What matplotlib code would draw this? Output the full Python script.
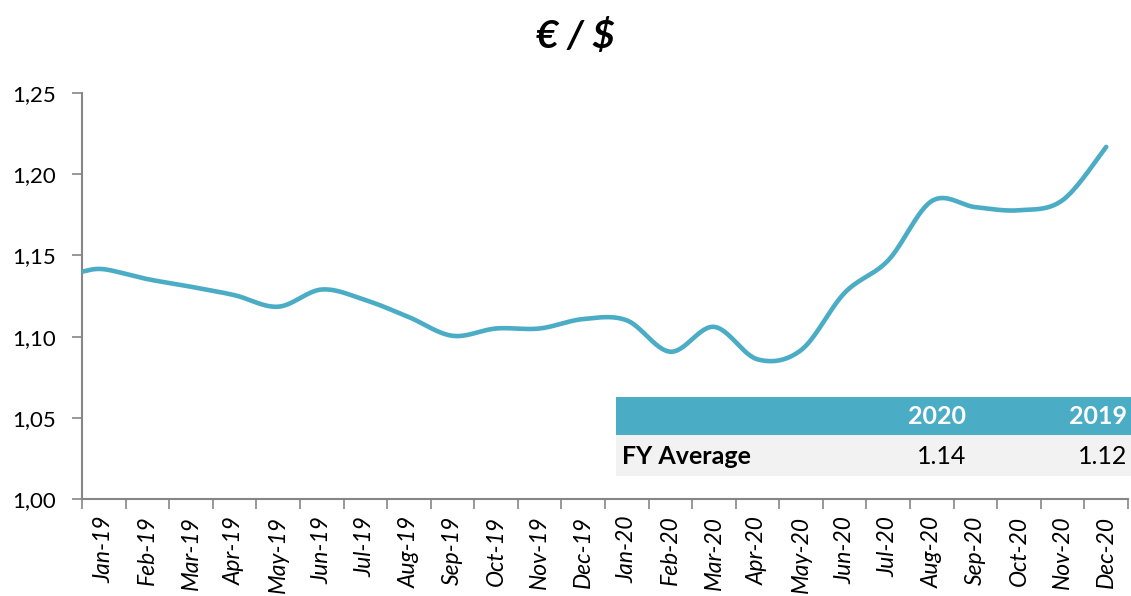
import numpy as np
import matplotlib
matplotlib.use("Agg")
import matplotlib.pyplot as plt
from matplotlib.patches import Rectangle

months = ["Jan-19", "Feb-19", "Mar-19", "Apr-19", "May-19", "Jun-19", "Jul-19", "Aug-19",
          "Sep-19", "Oct-19", "Nov-19", "Dec-19", "Jan-20", "Feb-20", "Mar-20", "Apr-20",
          "May-20", "Jun-20", "Jul-20", "Aug-20", "Sep-20", "Oct-20", "Nov-20", "Dec-20"]
start_value = 1.140
rate = [1.1415, 1.1354, 1.1307, 1.1255, 1.1184, 1.1290, 1.1225, 1.1120,
        1.1005, 1.1050, 1.1050, 1.1108, 1.1100, 1.0907, 1.1060, 1.0860,
        1.0917, 1.1270, 1.1470, 1.1835, 1.1797, 1.1778, 1.1840, 1.2168]
table_cols = ["2020", "2019"]
table_row = "FY Average"
table_vals = ["1.14", "1.12"]

plt.rcParams['font.family'] = ['Lato', 'DejaVu Sans']
COL = "#4BACC6"
GREY = "#868686"

fig = plt.figure(figsize=(11.31, 5.96), dpi=100)
ax = fig.add_axes([82/1131, 1-499/596, (1128-82)/1131, (499-93)/596])

xs = np.concatenate([[0.0], np.arange(len(rate)) + 0.5])
ys = np.concatenate([[start_value], rate])

# Catmull-Rom smoothing for drawing (like Excel smoothed line)
def catmull(x, y, n=30):
    P = np.column_stack([x, y])
    P = np.vstack([P[0], P, P[-1]])
    out = []
    t = np.linspace(0, 1, n, endpoint=False)
    for i in range(1, len(P) - 2):
        p0, p1, p2, p3 = P[i-1], P[i], P[i+1], P[i+2]
        b1 = p1 + (p2 - p0) / 6
        b2 = p2 - (p3 - p1) / 6
        seg = ((1-t)**3)[:, None]*p1 + (3*(1-t)**2*t)[:, None]*b1 + (3*(1-t)*t**2)[:, None]*b2 + (t**3)[:, None]*p2
        out.append(seg)
    out.append(P[-2][None, :])
    out = np.vstack(out)
    return out[:, 0], out[:, 1]

sx, sy = catmull(xs, ys)
ax.plot(sx, sy, color=COL, lw=3.3, solid_capstyle='round', zorder=3)

ax.set_xlim(0, 24)
ax.set_ylim(1.00, 1.25)
yt = np.arange(1.00, 1.2501, 0.05)
ax.set_yticks(yt)
ax.set_yticklabels([f"{v:.2f}".replace('.', ',') for v in yt], fontsize=16)
ax.set_xticks(np.arange(0, 25))
ax.set_xticklabels([])
ax.set_xticks(np.arange(len(months)) + 0.5, minor=True)
ax.set_xticklabels(months, minor=True, rotation=90, fontsize=16.5, style='italic')
ax.tick_params(axis='x', which='minor', length=0, pad=12)
ax.tick_params(axis='x', which='major', length=7, color=GREY, width=1.2)
ax.tick_params(axis='y', length=7, color=GREY, width=1.2, pad=12)
for s in ['top', 'right']:
    ax.spines[s].set_visible(False)
for s in ['left', 'bottom']:
    ax.spines[s].set_color(GREY)
    ax.spines[s].set_linewidth(1.5)

fig.text(575/1131, 1-36/596, "€ / $", ha='center', va='center', fontsize=28,
         fontweight='bold', style='italic')

# table
W, H = 1131, 596
def fx(px): return px / W
def fy(py): return 1 - py / H
fig.patches.append(Rectangle((fx(616), fy(435)), fx(1131-616), (435-397)/H,
                             transform=fig.transFigure, facecolor=COL, edgecolor='none', zorder=5))
fig.patches.append(Rectangle((fx(616), fy(476)), fx(1131-616), (476-435)/H,
                             transform=fig.transFigure, facecolor="#F2F2F2", edgecolor='none', zorder=5))
col_right = [966, 1127]
for c, xr in zip(table_cols, col_right):
    fig.text(fx(xr), fy(417), c, ha='right', va='center', fontsize=18, fontweight='bold',
             color='white', zorder=6)
fig.text(fx(622), fy(457), table_row, ha='left', va='center', fontsize=18, fontweight='bold',
         color='black', zorder=6)
for v, xr in zip(table_vals, col_right):
    fig.text(fx(xr), fy(457), v, ha='right', va='center', fontsize=18, color='black', zorder=6)

fig.savefig("out.png", dpi=100)
